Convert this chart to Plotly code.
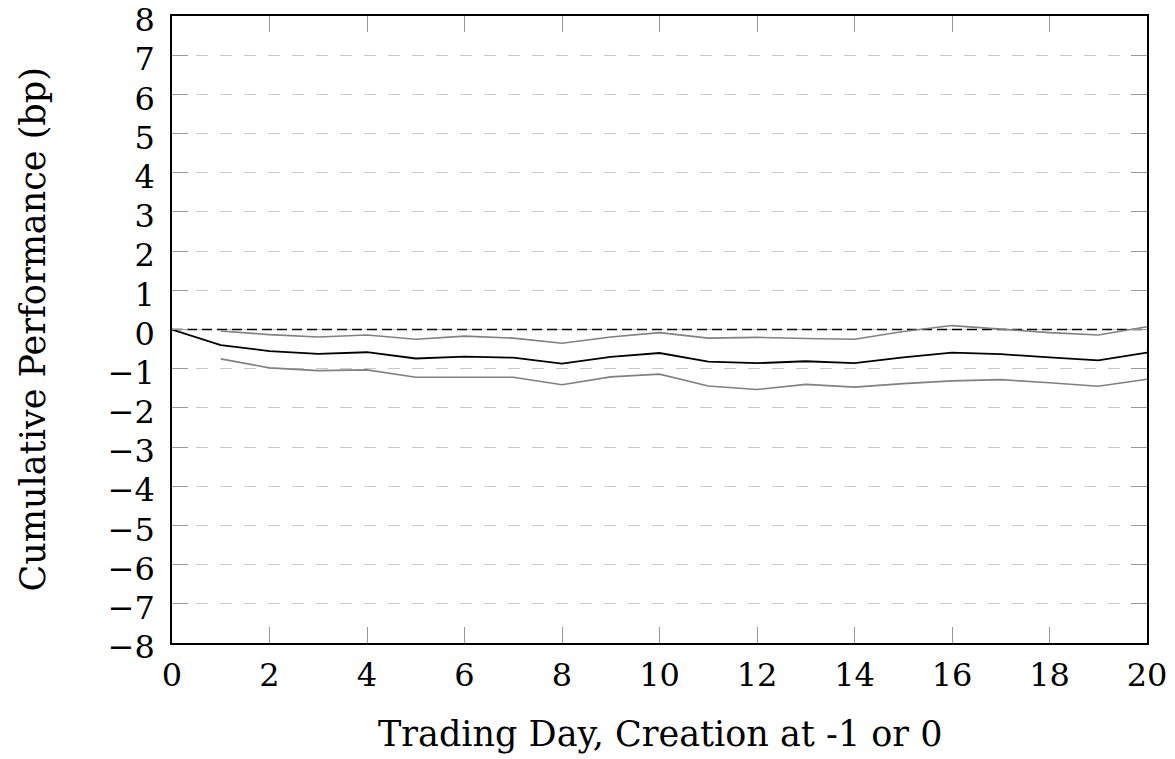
import plotly.graph_objects as go

days = list(range(0, 21))
mean_perf = [0.0, -0.40, -0.55, -0.62, -0.58, -0.74, -0.69, -0.72, -0.87, -0.70, -0.60,
             -0.82, -0.86, -0.81, -0.86, -0.71, -0.59, -0.63, -0.71, -0.79, -0.59]
band_days = list(range(1, 21))
upper_band = [-0.04, -0.13, -0.19, -0.14, -0.25, -0.17, -0.22, -0.35, -0.19, -0.08,
              -0.22, -0.20, -0.23, -0.25, -0.05, 0.10, 0.01, -0.08, -0.14, 0.07]
lower_band = [-0.75, -0.98, -1.05, -1.03, -1.22, -1.22, -1.22, -1.41, -1.21, -1.14,
              -1.44, -1.53, -1.40, -1.47, -1.38, -1.31, -1.28, -1.36, -1.45, -1.27]
zero_x = [0, 20]
zero_y = [0, 0]
x_ticks = list(range(0, 21, 2))
y_ticks = list(range(-8, 9))

FONT = "DejaVu Serif"

fig = go.Figure()
fig.add_trace(go.Scatter(x=zero_x, y=zero_y, mode="lines",
                         line=dict(color="black", width=1.5, dash="10px,5px"),
                         hoverinfo="skip", showlegend=False))
fig.add_trace(go.Scatter(x=band_days, y=upper_band, mode="lines",
                         line=dict(color="#808080", width=1.6), showlegend=False))
fig.add_trace(go.Scatter(x=band_days, y=lower_band, mode="lines",
                         line=dict(color="#808080", width=1.6), showlegend=False))
fig.add_trace(go.Scatter(x=days, y=mean_perf, mode="lines",
                         line=dict(color="black", width=1.8), showlegend=False))

fig.update_layout(
    width=1175, height=759,
    margin=dict(l=172, r=28, t=16, b=116),
    paper_bgcolor="white", plot_bgcolor="white",
    font=dict(family=FONT, size=32, color="black"),
    showlegend=False,
)
fig.update_xaxes(
    range=[0, 20], tickvals=x_ticks, ticktext=[str(v) for v in x_ticks],
    ticks="inside", ticklen=16, tickwidth=1, tickcolor="#999999",
    showline=True, linecolor="black", linewidth=1.5, mirror="ticks",
    showgrid=False, zeroline=False, ticklabelstandoff=3,
    ticklabeloverflow="allow", automargin=False,
    tickfont=dict(family=FONT, size=32),
)
fig.update_yaxes(
    range=[-8, 8], tickvals=y_ticks,
    ticks="inside", ticklen=16, tickwidth=1, tickcolor="#999999",
    showline=True, linecolor="black", linewidth=1.5, mirror="ticks",
    showgrid=True, gridcolor="#c8c8c8", gridwidth=1.2, griddash="12px,12px",
    zeroline=False, ticklabelstandoff=9, ticklabelshift=4,
    ticklabeloverflow="allow", automargin=False,
    tickfont=dict(family=FONT, size=32),
)
fig.add_annotation(text="Trading Day, Creation at -1 or 0", xref="paper", yref="paper",
                   x=0.5, y=0, yshift=-91, showarrow=False, yanchor="middle",
                   font=dict(family=FONT, size=35))
fig.add_annotation(text="Cumulative Performance (bp)", xref="paper", yref="paper",
                   x=0, y=0.5, xshift=-140, textangle=-90, showarrow=False,
                   xanchor="center", font=dict(family=FONT, size=35))

fig.write_html("out.html", config={"displayModeBar": False},
               post_script="document.body.style.margin='0';document.body.style.overflow='hidden';")
